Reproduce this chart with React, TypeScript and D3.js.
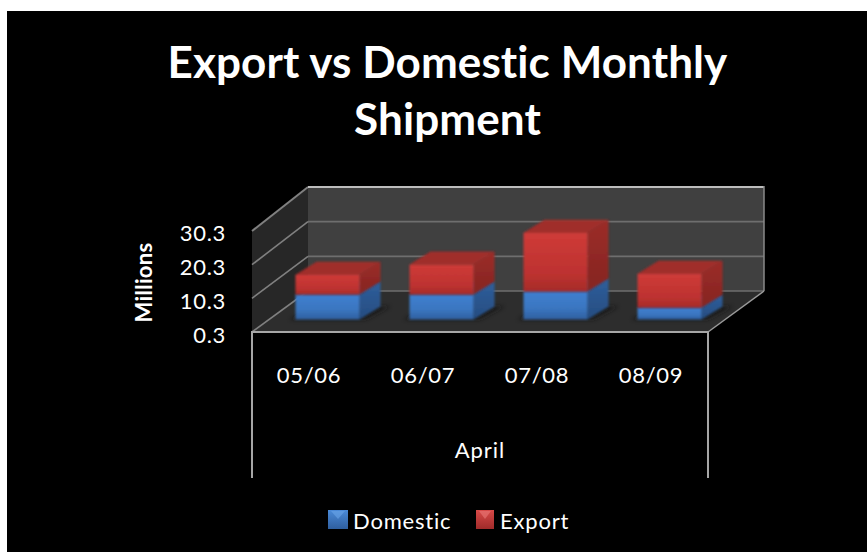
import React from "react";
import * as d3 from "d3";

const categories = ["05/06", "06/07", "07/08", "08/09"];
const domestic = [7.4, 7.4, 8.3, 3.5];
const exportVals = [5.9, 8.9, 17.5, 10.1];
const tickLabels = ["0.3", "10.3", "20.3", "30.3"];
const tickValues = [0.3, 10.3, 20.3, 30.3];
const titleLines = ["Export vs Domestic Monthly", "Shipment"];
const groupLabel = "April";
const yTitle = "Millions";
const legendItems = ["Domestic", "Export"];

const FONT = "Lato, Carlito, 'Open Sans', sans-serif";

const W = 867, H = 552;
const floorY = 332, backFloorY = 291;
const left = 252, right = 708;
const depthX = 56, depthY = 41;
const barBase = 319.5;
const barW = 64;
const barDX = 21, barDY = 13;
const barShift = 18.5;

const x = d3.scaleBand<string>().domain(categories).range([left, right]);
const yFront = d3.scaleLinear().domain([0.3, 30.3]).range([floorY, 231]);
const yBack = d3.scaleLinear().domain([0.3, 30.3]).range([backFloorY, 187]);
const yLabel = d3.scaleLinear().domain([0.3, 30.3]).range([343, 241]);
const barH = d3.scaleLinear().domain([0, 30]).range([0, 101]);

const rows = categories.map((c, i) => ({ c, Domestic: domestic[i], Export: exportVals[i] }));
const stacked = d3.stack<any>().keys(legendItems)(rows);

const poly = (pts: [number, number][]) => pts.map((p) => p.join(",")).join(" ");

function Bar({ x0, top, bottom, id, sideId, topFill }: any) {
  const x1 = x0 + barW;
  return (
    <g filter="url(#soft)">
      <polygon points={poly([[x1, bottom], [x1 + barDX, bottom - barDY], [x1 + barDX, top - barDY], [x1, top]])} fill={`url(#${sideId})`} />
      <polygon points={poly([[x0, top], [x1, top], [x1 + barDX, top - barDY], [x0 + barDX, top - barDY]])} fill={topFill} />
      <rect x={x0} y={top} width={barW} height={bottom - top} fill={`url(#${id})`} />
    </g>
  );
}

export default function App() {
  return (
    <svg width={W} height={H} style={{ position: "absolute", left: 0, top: 0, fontVariantLigatures: "none" }} fontFamily={FONT}>
      <defs>
        <linearGradient id="blueF" x1="0" y1="0" x2="0" y2="1">
          <stop offset="0" stopColor="#3f7fd0" />
          <stop offset="0.6" stopColor="#3a76c0" />
          <stop offset="1" stopColor="#2f5f9f" />
        </linearGradient>
        <linearGradient id="redF" x1="0" y1="0" x2="0" y2="1">
          <stop offset="0" stopColor="#cf3b38" />
          <stop offset="0.7" stopColor="#bd3230" />
          <stop offset="1" stopColor="#a52b29" />
        </linearGradient>
        <linearGradient id="blueS" x1="0" y1="0" x2="0" y2="1">
          <stop offset="0" stopColor="#2f5f9c" />
          <stop offset="1" stopColor="#264c80" />
        </linearGradient>
        <linearGradient id="redS" x1="0" y1="0" x2="0" y2="1">
          <stop offset="0" stopColor="#9c2c28" />
          <stop offset="1" stopColor="#852522" />
        </linearGradient>
        <linearGradient id="legB" x1="0" y1="0" x2="0" y2="1">
          <stop offset="0" stopColor="#4a8ad8" />
          <stop offset="1" stopColor="#2f5f9f" />
        </linearGradient>
        <linearGradient id="legR" x1="0" y1="0" x2="0" y2="1">
          <stop offset="0" stopColor="#d84a48" />
          <stop offset="1" stopColor="#a02b2a" />
        </linearGradient>
        <filter id="soft" x="-10%" y="-10%" width="120%" height="120%">
          <feGaussianBlur stdDeviation="0.8" />
        </filter>
        <filter id="shadow" x="-30%" y="-60%" width="160%" height="220%">
          <feGaussianBlur stdDeviation="2" />
        </filter>
      </defs>

      <rect width={W} height={H} fill="#ffffff" />
      <rect x={7} y={11} width={W - 7} height={H - 11} fill="#000000" />

      <text textAnchor="middle" fill="#fff" fontWeight={700} fontSize={44} letterSpacing={0.1}>
        <tspan x={447.5} y={78}>{titleLines[0]}</tspan>
        <tspan x={447.5} y={135}>{titleLines[1]}</tspan>
      </text>

      {/* walls */}
      <polygon points={poly([[left, floorY], [left, 231], [left + depthX, 187], [left + depthX, backFloorY]])} fill="#272727" />
      <rect x={left + depthX} y={187} width={right - left} height={backFloorY - 187} fill="#404040" />
      <polygon points={poly([[left, floorY], [right, floorY], [right + depthX, backFloorY], [left + depthX, backFloorY]])} fill="#2d2d2d" />

      {/* gridlines */}
      {tickValues.map((t, i) => (
        <g key={t} fill="none" strokeWidth={i === 3 ? 2 : 1.6}>
          <polyline points={poly([[left, yFront(t)], [left + depthX, yBack(t)]])} stroke="#808080" />
          <line
            x1={left + depthX}
            x2={left + depthX + (right - left)}
            y1={yBack(t)}
            y2={yBack(t)}
            stroke={i === 3 ? "#bdbdbd" : "#6e6e6e"}
          />
        </g>
      ))}
      <line x1={right + depthX} x2={right + depthX} y1={186} y2={backFloorY} stroke="#8a8a8a" strokeWidth={1.5} />
      <line x1={right} y1={floorY} x2={right + depthX} y2={backFloorY} stroke="#9a9a9a" strokeWidth={1.5} />

      {/* floor shadows */}
      {categories.map((c) => {
        const x0 = (x(c) as number) + x.bandwidth() / 2 - barW / 2 + barShift;
        return (
          <polygon
            key={c}
            points={poly([[x0 - 6, barBase], [x0 + barW + 6, barBase], [x0 + barW + barDX + 10, barBase - barDY], [x0 + barDX, barBase - barDY]])}
            fill="#151515"
            opacity={0.7}
            filter="url(#shadow)"
          />
        );
      })}

      {/* bars */}
      {categories.map((c, i) => {
        const x0 = (x(c) as number) + x.bandwidth() / 2 - barW / 2 + barShift;
        const [d, e] = [stacked[0][i], stacked[1][i]];
        return (
          <g key={c}>
            <Bar x0={x0} bottom={barBase - barH(d[0])} top={barBase - barH(d[1])} id="blueF" sideId="blueS" topFill="#2f5f9c" />
            <Bar x0={x0} bottom={barBase - barH(e[0])} top={barBase - barH(e[1])} id="redF" sideId="redS" topFill="#a02d2a" />
          </g>
        );
      })}

      {/* axis frame */}
      <g stroke="#a6a6a6" strokeWidth={2} fill="none">
        <line x1={left - 1} x2={right + 1} y1={floorY} y2={floorY} />
        <line x1={left} x2={left} y1={floorY} y2={478} />
        <line x1={right} x2={right} y1={floorY} y2={478} />
      </g>

      {/* y ticks */}
      {tickLabels.map((t, i) => (
        <text key={t} x={226} y={yLabel(tickValues[i])} textAnchor="end" fill="#fff" fontSize={22} letterSpacing={0.7}>{t}</text>
      ))}
      <text transform="translate(152,282.5) rotate(-90)" textAnchor="middle" fill="#fff" fontWeight={700} fontSize={22} letterSpacing={0.3}>{yTitle}</text>

      {/* categories */}
      {categories.map((c) => (
        <text key={c} x={(x(c) as number) + x.bandwidth() / 2} y={383} textAnchor="middle" fill="#fff" fontSize={22} letterSpacing={0.7}>{c}</text>
      ))}
      <text x={480} y={458} textAnchor="middle" fill="#fff" fontSize={22} letterSpacing={1}>{groupLabel}</text>

      {/* legend */}
      <rect x={328} y={510} width={20} height={19} fill="url(#legB)" />
      <polygon points={poly([[331, 511], [345, 511], [338, 519]])} fill="#6aa5e8" opacity={0.6} />
      <text x={353} y={529} fill="#fff" fontSize={22} letterSpacing={0.8}>{legendItems[0]}</text>
      <rect x={476} y={510} width={18} height={19} fill="url(#legR)" />
      <polygon points={poly([[479, 511], [491, 511], [485, 519]])} fill="#ea7a78" opacity={0.6} />
      <text x={500} y={529} fill="#fff" fontSize={22} letterSpacing={0.8}>{legendItems[1]}</text>
    </svg>
  );
}
